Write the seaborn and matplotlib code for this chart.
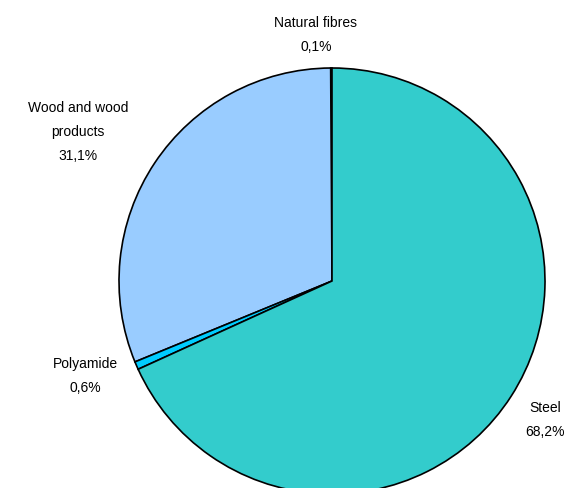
import matplotlib
matplotlib.use("Agg")
import matplotlib.pyplot as plt
import seaborn as sns

sns.set_theme(style="white")
plt.rcParams['font.family'] = ['Liberation Sans', 'DejaVu Sans']

# data, counter-clockwise from the top
materials = ["Natural fibres", "Wood and wood\nproducts", "Polyamide", "Steel"]
shares = [0.1, 31.1, 0.6, 68.2]
colors = ["#333399", "#99CCFF", "#00CCFF", "#33CCCC"]

fig = plt.figure(figsize=(5.68, 4.89), dpi=100)
ax = fig.add_axes([0, 0, 1, 1])

wedges, _ = ax.pie(shares, colors=colors, startangle=90, counterclock=True,
                   radius=1, center=(0, 0),
                   wedgeprops=dict(edgecolor="black", linewidth=1.2))

# pixel mapping: centre at (332, 282), radius 213 px
r_px = 213
ax.set_aspect('auto')
ax.set_xlim(-332 / r_px, (568 - 332) / r_px)
ax.set_ylim(-(489 - 282) / r_px, 282 / r_px)
ax.axis('off')

# label positions (axes fraction)
label_pos = [(316 / 568, 1 - 35 / 489), (78 / 568, 1 - 132 / 489),
             (85 / 568, 1 - 376 / 489), (545 / 568, 1 - 420 / 489)]
for name, v, (x, y) in zip(materials, shares, label_pos):
    txt = name + "\n" + f"{v:.1f}%".replace(".", ",")
    ax.text(x, y, txt, transform=ax.transAxes, ha="center", va="center",
            fontsize=10, linespacing=1.95, color="black")

plt.savefig("out.png", dpi=100)
